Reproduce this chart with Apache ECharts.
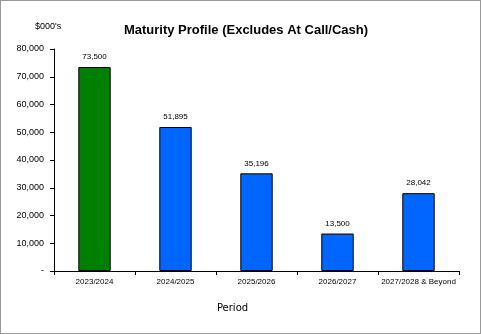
<!DOCTYPE html>
<html><head><meta charset="utf-8">
<script src="https://cdn.jsdelivr.net/npm/echarts@6/dist/echarts.min.js"></script>
<style>html,body{margin:0;padding:0;background:#fff}#c{width:481px;height:334px;box-sizing:border-box;border:1px solid #999}</style>
</head><body><div id="c"></div>
<script>
const categories = ['2023/2024','2024/2025','2025/2026','2026/2027','2027/2028 & Beyond'];
const values = [73500, 51895, 35196, 13500, 28042];
const barColors = ['#008000','#0066FF','#0066FF','#0066FF','#0066FF'];
const chart = echarts.init(document.getElementById('c'), null, {renderer:'canvas'});
chart.setOption({
  animation:false,
  title:{text:'Maturity Profile (Excludes At Call/Cash)',left:240,top:18,textAlign:'center',
    textStyle:{fontFamily:'Liberation Sans, Arial',fontSize:13,fontWeight:'bold',color:'#000'}},
  graphic:[{type:'text',left:34,top:21,style:{text:"$000's",font:'9px Liberation Sans, Arial',fill:'#000'}}],
  grid:{left:53,right:21,top:48,bottom:62},
  xAxis:{type:'category',data:categories,
    name:'Period',nameLocation:'middle',nameGap:32,
    nameTextStyle:{fontFamily:'DejaVu Sans, Verdana',fontSize:10,color:'#000',padding:[0,48,0,0]},
    axisLine:{lineStyle:{color:'#000',width:1}},
    axisTick:{show:true,length:4,lineStyle:{color:'#000'}},
    axisLabel:{fontFamily:'Liberation Sans, Arial',fontSize:8,color:'#000',margin:7,interval:0}},
  yAxis:{type:'value',min:0,max:80000,interval:10000,
    axisLine:{show:true,lineStyle:{color:'#000',width:1}},
    axisTick:{show:true,length:4,lineStyle:{color:'#000'}},
    splitLine:{show:false},
    axisLabel:{fontFamily:'Liberation Sans, Arial',fontSize:9,color:'#000',margin:10,
      formatter:v=>v===0?'-':v.toLocaleString('en-US')}},
  series:[{type:'bar',barWidth:'40%',
    data:values.map((v,i)=>({value:v,itemStyle:{color:barColors[i]}})),
    itemStyle:{borderColor:'#000',borderWidth:1},
    label:{show:true,position:'top',distance:6,fontFamily:'Liberation Sans, Arial',fontSize:8,color:'#000',
      formatter:p=>p.value.toLocaleString('en-US')}}]
});
</script></body></html>
